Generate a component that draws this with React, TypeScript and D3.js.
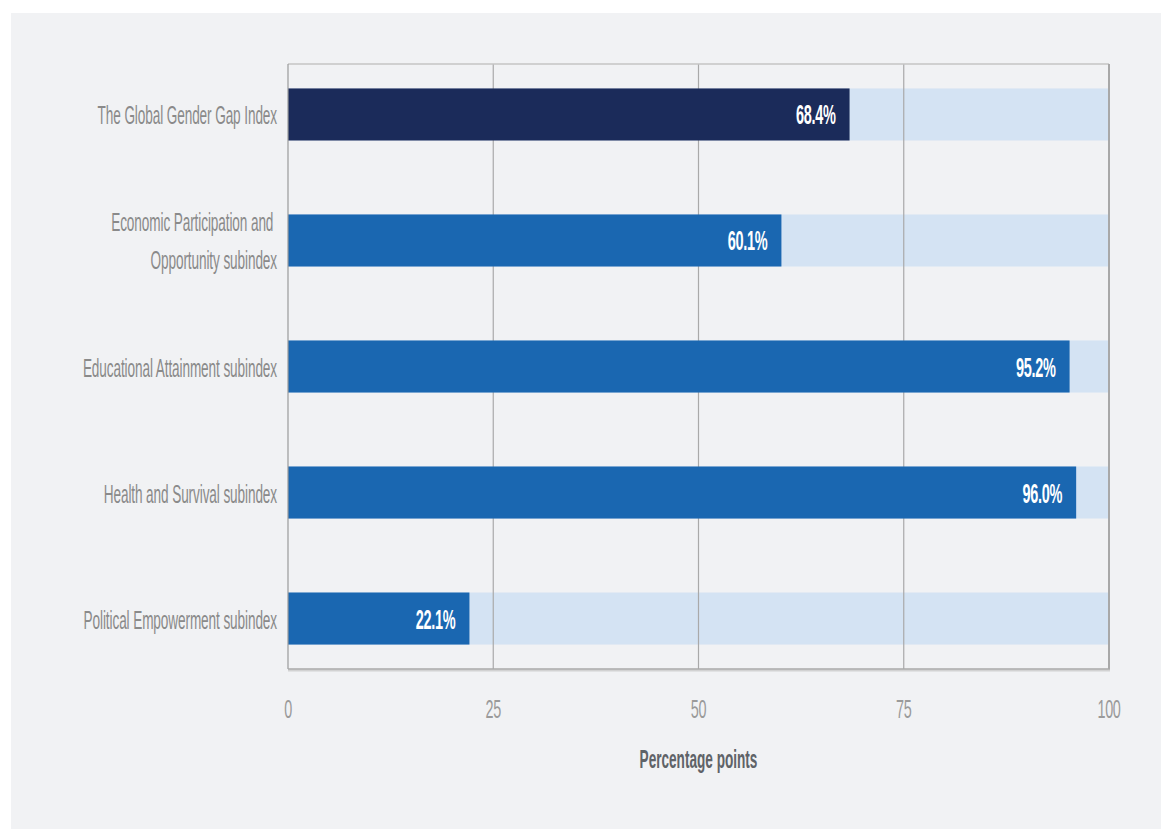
import React from "react";
import * as d3 from "d3";

const categories: string[][] = [
  ["The Global Gender Gap Index"],
  ["Economic Participation and ", "Opportunity subindex"],
  ["Educational Attainment subindex"],
  ["Health and Survival subindex"],
  ["Political Empowerment subindex"],
];
const values: number[] = [68.4, 60.1, 95.2, 96.0, 22.1];
const valueLabels: string[] = ["68.4%", "60.1%", "95.2%", "96.0%", "22.1%"];
const xTicks: number[] = [0, 25, 50, 75, 100];
const xDomain: [number, number] = [0, 100];
const axisTitle = "Percentage points";

const W = 1161;
const H = 829;
const FONT = "'Liberation Sans', Arial, Helvetica, sans-serif";

export default function App() {
  const left = 288;
  const right = 1109;
  const top = 64;
  const bottom = 669;
  const x = d3.scaleLinear().domain(xDomain).range([left, right]);
  const keys = categories.map((c) => c.join(""));
  const y = d3
    .scaleBand<string>()
    .domain(keys)
    .range([top, bottom])
    .paddingInner(0.587)
    .paddingOuter(0.194);
  const bw = y.bandwidth();

  return (
    <svg
      width={W}
      height={H}
      style={{ position: "absolute", left: 0, top: 0, display: "block" }}
    >
      <rect x={0} y={0} width={W} height={H} fill="#ffffff" />
      <rect x={11} y={13} width={W - 11} height={H - 13} fill="#f1f2f4" />

      {/* background tracks */}
      {keys.map((k, i) => (
        <rect
          key={"bg" + i}
          x={x(xDomain[0])}
          y={y(k)!}
          width={x(xDomain[1]) - x(xDomain[0])}
          height={bw}
          fill="#d4e3f3"
        />
      ))}

      {/* gridlines */}
      {xTicks.slice(1, -1).map((t) => (
        <line
          key={"g" + t}
          x1={x(t)}
          x2={x(t)}
          y1={top}
          y2={bottom}
          stroke="#a9a9a9"
          strokeWidth={1.2}
        />
      ))}

      {/* bars */}
      {keys.map((k, i) => (
        <rect
          key={"b" + i}
          x={x(0)}
          y={y(k)!}
          width={x(values[i]) - x(0)}
          height={bw}
          fill={i === 0 ? "#1b2b5a" : "#1a67b1"}
        />
      ))}

      {/* frame */}
      <line x1={left} x2={right} y1={top} y2={top} stroke="#c4c4c4" strokeWidth={1.5} />
      <line x1={right} x2={right} y1={top} y2={bottom} stroke="#a8a8a8" strokeWidth={2} />
      <line x1={left} x2={left} y1={top} y2={bottom} stroke="#9a9a9a" strokeWidth={1.2} />
      <line x1={left} x2={right + 1} y1={bottom + 1.5} y2={bottom + 1.5} stroke="#d2d2d2" strokeWidth={2} />
      <line x1={left} x2={right + 1} y1={bottom} y2={bottom} stroke="#a8a8a8" strokeWidth={1.6} />

      {/* value labels */}
      {keys.map((k, i) => (
        <g
          key={"v" + i}
          transform={`translate(${x(values[i]) - 14},${y(k)! + bw / 2 + 10}) scale(1,1.85)`}
        >
          <text
            textAnchor="end"
            fontFamily={FONT}
            fontSize={14.5}
            fontWeight="bold"
            fill="#ffffff"
            style={{ letterSpacing: "-0.3px" }}
          >
            {valueLabels[i]}
          </text>
        </g>
      ))}

      {/* category labels */}
      {keys.map((k, i) => {
        const lines = categories[i];
        const cy = y(k)! + bw / 2;
        const lh = 38;
        return lines.map((ln, j) => {
          const base = cy + 10 + (j - (lines.length - 1) / 2) * lh;
          return (
            <g key={"c" + i + "-" + j} transform={`translate(277,${base}) scale(1,1.95)`}>
              <text
                textAnchor="end"
                fontFamily={FONT}
                fontSize={13.6}
                fill="#8a8a8a"
                style={{ whiteSpace: "pre", letterSpacing: "-0.1px" }}
              >
                {ln}
              </text>
            </g>
          );
        });
      })}

      {/* x tick labels */}
      {xTicks.map((t) => (
        <g key={"t" + t} transform={`translate(${x(t)},${718}) scale(1,1.75)`}>
          <text
            textAnchor="middle"
            fontFamily={FONT}
            fontSize={14.4}
            fill="#9a9a9a"
            style={{ letterSpacing: "-0.3px" }}
          >
            {t}
          </text>
        </g>
      ))}

      {/* axis title */}
      <g transform={`translate(${(left + right) / 2},${768}) scale(1,1.85)`}>
        <text
          textAnchor="middle"
          fontFamily={FONT}
          fontSize={13.6}
          fontWeight="bold"
          fill="#5f6368"
        >
          {axisTitle}
        </text>
      </g>
    </svg>
  );
}
